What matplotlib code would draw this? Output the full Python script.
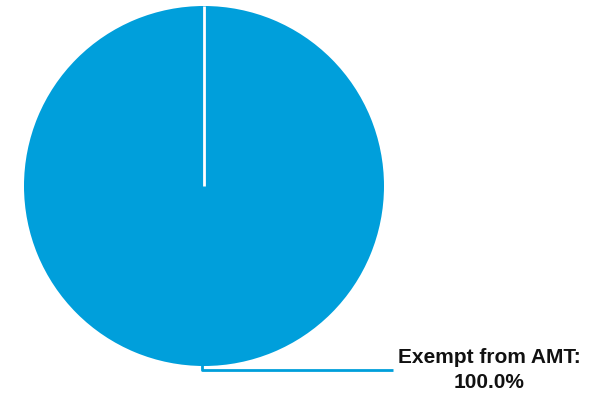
import matplotlib
matplotlib.use("Agg")
import matplotlib.pyplot as plt

labels = ["Exempt from AMT"]
shares = [100.0]
colors = ["#009fdb"]

fig = plt.figure(figsize=(5.9, 3.95), dpi=100)
ax = fig.add_axes([0, 0, 1, 1])

cx, cy, r = 204, 209, 180
ax.pie(shares, colors=colors, startangle=90, counterclock=False,
       center=(cx, cy), radius=r, frame=True)
# a single full wedge has no radial edge, so draw the seam at 12 o'clock
ax.plot([cx, cx], [cy, cy + r], color="white", lw=2, solid_capstyle="butt")
ax.set_xlim(0, 590)
ax.set_ylim(0, 395)
ax.set_aspect("equal")
ax.axis("off")

# leader line from the bottom of the wedge out to the label
ax.plot([cx - 2, cx - 2, 393], [cy - r + 3, cy - r - 4, cy - r - 4],
        color=colors[0], lw=2, solid_capstyle="butt")
ax.text(489, cy - r - 4, f"{labels[0]}:\n{shares[0]:.1f}%",
        ha="center", va="center", fontsize=15, fontweight="bold",
        family="Liberation Sans", color="#111111", linespacing=1.4)

fig.savefig("out.png", dpi=100)
